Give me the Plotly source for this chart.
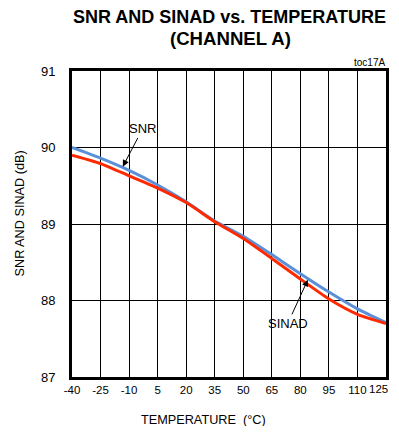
import plotly.graph_objects as go

temperature = [-40, -25, -10, 5, 20, 35, 50, 65, 80, 95, 110, 125]
snr = [90.00, 89.86, 89.70, 89.51, 89.29, 89.04, 88.84, 88.60, 88.35, 88.11, 87.89, 87.71]
sinad = [89.90, 89.79, 89.63, 89.47, 89.28, 89.03, 88.81, 88.55, 88.28, 88.02, 87.82, 87.70]
x_ticks = [-40, -25, -10, 5, 20, 35, 50, 65, 80, 95, 110, 125]
y_ticks = [87, 88, 89, 90, 91]

FONT = "Liberation Sans, Arial, sans-serif"
XTICK_SIZE = 11.5

# reference pixel geometry of the plot area (page coords)
PL, PR, PT, PB = 72, 389, 71, 377
PW, PH = PR - PL, PB - PT


def px(xr):
    return (xr - PL) / PW


def py(yr):
    return (PB - yr) / PH


# the page body has an 8px default margin; keep the figure inside the window
OFF = 8
W, H = 399 - 2 * OFF, 434 - 2 * OFF

fig = go.Figure()
fig.add_trace(go.Scatter(x=temperature, y=snr, mode="lines", name="SNR",
                         line=dict(color="#5B8FD8", width=3, shape="spline", smoothing=0.6)))
fig.add_trace(go.Scatter(x=temperature, y=sinad, mode="lines", name="SINAD",
                         line=dict(color="#FF2A00", width=3, shape="spline", smoothing=0.6)))

# last tick label is drawn separately so it stays inside the window
tick_text = [str(v) for v in x_ticks[:-1]] + [""]

fig.update_layout(
    width=W, height=H,
    margin=dict(l=PL - OFF, r=W - (PR - OFF), t=PT - OFF, b=H - (PB - OFF)),
    paper_bgcolor="white", plot_bgcolor="white",
    showlegend=False,
    font=dict(family=FONT, size=13, color="black"),
    xaxis=dict(range=[-40, 125], tickvals=x_ticks, ticktext=tick_text,
               showgrid=True, gridcolor="black", gridwidth=1,
               showline=True, linecolor="black", linewidth=3, mirror=True,
               zeroline=False, ticks="", ticklen=0,
               tickfont=dict(family=FONT, size=XTICK_SIZE, color="black")),
    yaxis=dict(range=[87, 91], tickvals=y_ticks, ticktext=[str(v) for v in y_ticks],
               showgrid=True, gridcolor="black", gridwidth=1,
               showline=True, linecolor="black", linewidth=3, mirror=True,
               zeroline=False, ticks="", ticklen=0, ticklabelstandoff=11,
               tickfont=dict(family=FONT, size=13, color="black")),
)

fig.add_annotation(text=str(x_ticks[-1]), x=px(391), y=py(388.8), xref="paper", yref="paper",
                   xanchor="right", yanchor="middle", showarrow=False,
                   borderpad=0, borderwidth=0,
                   font=dict(family=FONT, size=XTICK_SIZE, color="black"))

# title lines
fig.add_annotation(text="<b>SNR AND SINAD vs. TEMPERATURE</b>", x=px(231), y=py(17.5),
                   xref="paper", yref="paper", xanchor="center", yanchor="middle",
                   showarrow=False, font=dict(family=FONT, size=18, color="black"))
fig.add_annotation(text="<b>(CHANNEL A)</b>", x=px(232.5), y=py(38.5),
                   xref="paper", yref="paper", xanchor="center", yanchor="middle",
                   showarrow=False, font=dict(family=FONT, size=18.6, color="black"))

# callouts
fig.add_annotation(text="SNR", x=-13.3, y=89.75, xref="x", yref="y",
                   ax=143 - 123.3, ay=129 - 166.7, showarrow=True, arrowhead=2, arrowsize=1.3,
                   arrowwidth=1, arrowcolor="black",
                   font=dict(family=FONT, size=13, color="black"))
fig.add_annotation(text="SINAD", x=83.9, y=88.27, xref="x", yref="y",
                   ax=290 - 310, ay=323.5 - 280, showarrow=True, arrowhead=2, arrowsize=1.3,
                   arrowwidth=1, arrowcolor="black",
                   font=dict(family=FONT, size=13, color="black"))

fig.add_annotation(text="toc17A", x=px(390), y=py(62), xref="paper", yref="paper",
                   xanchor="right", yanchor="middle", showarrow=False,
                   font=dict(family=FONT, size=10, color="black"))

# axis titles
fig.add_annotation(text="TEMPERATURE  (°C)", x=px(205), y=py(420), xref="paper", yref="paper",
                   xanchor="center", yanchor="middle", showarrow=False,
                   font=dict(family=FONT, size=12.7, color="black"))
fig.add_annotation(text="SNR AND SINAD (dB)", textangle=-90, x=px(20), y=py(213),
                   xref="paper", yref="paper", xanchor="center", yanchor="middle",
                   showarrow=False, font=dict(family=FONT, size=12.7, color="black"))

fig.write_html("out.html")
